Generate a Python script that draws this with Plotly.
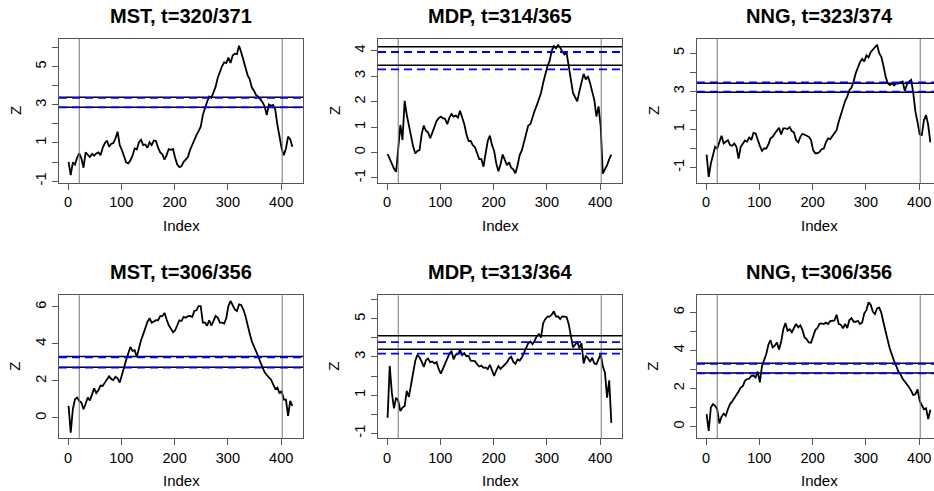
import plotly.graph_objects as go

# ---------------- data ----------------
x_index = list(range(1, 425, 4))  # sampled index positions 1..421

titles = ["MST, t=320/371", "MDP, t=314/365", "NNG, t=323/374",
          "MST, t=306/356", "MDP, t=313/364", "NNG, t=306/356"]

mst_1 = [0.01,-0.69,-0.02,-0.13,0.22,0.45,0.19,-0.30,0.50,0.40,
         0.26,0.43,0.33,0.45,0.50,0.36,0.75,0.98,1.13,0.80,
         0.96,0.99,1.24,1.59,0.89,0.63,0.28,-0.02,-0.07,0.08,
         0.33,0.71,0.66,1.03,1.17,0.89,0.92,0.75,1.03,0.89,
         1.13,1.10,0.75,0.50,0.40,0.12,0.36,0.68,0.64,0.68,
         0.22,-0.13,-0.27,-0.21,0.01,0.12,0.26,0.63,0.92,1.20,
         1.41,1.62,1.85,2.46,2.85,3.16,3.43,3.37,3.65,3.95,
         4.42,4.77,5.02,5.23,5.19,5.47,5.19,5.58,5.68,5.65,
         6.10,5.75,5.33,4.84,4.56,4.34,3.90,3.74,3.51,3.43,
         3.30,3.13,2.92,2.46,3.02,2.95,2.99,2.73,1.94,1.33,
         0.71,0.36,0.71,1.33,1.20,0.80]

mdp_1 = [-0.06,-0.26,-0.47,-0.63,-0.76,0.29,1.08,0.49,2.03,1.48,
         1.06,0.62,0.23,-0.04,0.06,0.09,0.72,1.06,0.85,0.79,
         0.56,0.78,0.98,1.24,1.35,1.41,1.35,1.32,1.11,1.37,
         1.51,1.41,1.45,1.37,1.64,1.41,1.11,0.72,0.45,0.45,
         0.29,0.21,-0.04,-0.26,-0.26,-0.56,-0.04,0.45,0.66,0.29,
         0.06,-0.43,-0.74,-0.47,-0.08,-0.26,-0.50,-0.39,-0.60,-0.66,
         -0.82,-0.50,-0.10,0.08,0.42,0.69,1.06,1.11,1.41,1.64,
         1.85,2.11,2.34,2.73,3.09,3.39,3.59,3.99,4.18,4.09,
         4.22,4.12,3.96,3.85,3.92,3.33,2.73,2.34,2.17,2.01,
         2.40,2.77,3.09,2.87,3.00,2.73,2.34,2.07,1.41,1.81,
         1.02,-0.83,-0.66,-0.50,-0.26,-0.08]

nng_1 = [-0.32,-1.49,-0.79,-0.39,0.09,0.00,0.32,0.67,0.26,0.35,
         0.44,0.18,0.14,0.26,0.09,-0.53,0.09,0.25,0.42,0.35,
         0.60,0.44,0.82,0.79,0.42,0.14,-0.12,0.00,0.00,0.21,
         0.53,0.61,0.79,0.96,1.09,0.74,1.05,1.05,1.02,1.12,
         0.91,0.84,0.44,0.32,0.61,0.77,0.70,0.67,0.61,0.44,
         -0.09,-0.25,-0.25,-0.18,-0.04,0.00,0.32,0.53,0.49,0.65,
         0.77,0.96,1.40,1.79,2.23,2.49,2.72,3.05,3.19,3.51,
         3.95,4.30,4.53,4.70,4.56,4.88,4.77,5.05,5.18,5.26,
         5.44,5.00,4.81,4.33,3.77,3.42,3.33,3.42,3.30,3.42,
         3.40,3.47,3.51,3.02,3.35,3.51,3.60,2.89,1.93,1.37,
         0.74,0.70,1.49,1.75,1.23,0.32]

mst_2 = [0.65,-0.79,0.47,1.01,1.10,0.92,0.83,0.47,0.77,1.10,
         0.95,1.26,1.60,1.35,1.50,1.75,1.73,1.91,2.11,2.25,
         2.11,2.05,2.22,2.14,1.91,2.36,2.72,3.12,3.48,3.84,
         3.62,3.66,3.30,3.80,4.20,4.52,4.92,5.19,5.39,5.15,
         5.21,5.28,5.28,5.50,5.50,5.68,5.32,5.01,4.83,4.63,
         4.74,4.99,5.28,5.24,5.46,5.42,5.50,5.51,5.46,5.78,
         5.82,6.05,6.05,5.15,5.15,4.99,5.28,4.99,5.24,5.51,
         5.42,5.15,5.15,5.10,5.39,6.05,6.32,6.07,5.87,5.78,
         6.14,6.11,5.86,5.51,4.97,4.56,4.13,3.89,3.66,3.33,
         3.01,2.72,2.47,2.32,2.18,2.07,1.82,1.57,1.64,1.32,
         1.46,0.99,0.99,0.11,0.92,0.65]

mdp_2 = [-0.18,2.53,1.13,0.31,0.87,0.70,0.17,0.35,0.43,1.22,
         0.91,1.57,2.13,2.80,3.11,2.97,2.76,2.48,2.83,2.92,
         2.73,2.76,2.66,2.73,2.36,2.13,2.39,2.67,2.97,3.18,
         3.29,2.88,3.13,3.15,3.37,3.09,3.20,3.04,3.06,2.81,
         2.80,2.78,2.62,2.50,2.55,2.43,2.45,2.36,2.59,2.27,
         2.01,2.29,2.52,2.38,2.50,2.59,2.71,2.92,3.01,2.74,
         2.64,2.87,2.81,2.97,3.20,3.50,3.72,3.81,3.67,3.85,
         4.09,4.20,4.02,4.76,4.98,5.11,5.11,5.21,5.39,5.12,
         5.12,4.98,5.12,5.11,5.09,4.72,4.06,3.50,3.64,3.81,
         3.46,3.72,2.66,3.06,2.94,2.74,2.97,2.66,2.62,2.87,
         3.15,2.53,2.18,0.87,1.78,-0.45]

nng_2 = [0.65,-0.23,1.00,1.18,1.09,0.91,0.16,0.51,0.68,0.56,
         0.91,1.18,1.32,1.49,1.63,1.84,2.05,2.12,2.40,2.49,
         2.51,2.67,2.68,2.58,2.89,2.32,3.19,3.54,3.81,4.30,
         4.54,4.16,4.25,4.42,4.05,4.47,5.12,5.44,5.04,5.12,
         4.96,5.18,5.39,5.21,5.32,5.07,4.68,4.58,4.42,4.40,
         4.72,5.07,5.18,5.40,5.42,5.39,5.46,5.39,5.54,5.56,
         5.58,5.88,5.39,5.35,5.16,5.39,5.18,5.60,5.70,5.51,
         5.51,5.56,5.39,5.47,5.95,6.12,6.53,6.40,6.04,5.91,
         6.21,6.25,5.98,5.47,5.07,4.54,4.09,3.72,3.44,3.18,
         2.89,2.75,2.51,2.37,2.23,2.07,1.88,1.65,1.70,1.95,
         1.35,1.11,0.91,0.96,0.39,0.88]

series = [mst_1, mdp_1, nng_1, mst_2, mdp_2, nng_2]

black_levels = [[3.39, 2.87], [4.16, 3.43], [3.42, 2.95],
                [3.32, 2.74], [4.11, 3.41], [3.33, 2.81]]
blue_levels = [[3.36, 2.87], [3.95, 3.27], [3.46, 2.98],
               [3.28, 2.72], [3.78, 3.18], [3.30, 2.79]]
vlines = [21, 402]

y_ranges = [[-1.1, 6.45], [-1.2, 4.46], [-1.81, 5.74],
            [-1.1, 6.63], [-1.26, 6.23], [-0.62, 6.9]]
y_ticks = [[-1, 0, 1, 2, 3, 4, 5, 6], [-1, 0, 1, 2, 3, 4], [-1, 0, 1, 2, 3, 4, 5],
           [0, 2, 4, 6], [-1, 0, 1, 2, 3, 4, 5, 6], [0, 1, 2, 3, 4, 5, 6]]
y_labels = [["-1", "", "1", "", "3", "", "5", ""],
            ["-1", "0", "1", "2", "3", "4"],
            ["-1", "", "1", "", "3", "", "5"],
            ["0", "2", "4", "6"],
            ["-1", "", "1", "", "3", "", "5", ""],
            ["0", "", "2", "", "4", "", "6"]]
x_ticks = [0, 100, 200, 300, 400]

# ---------------- layout geometry ----------------
W, H = 934, 491
col_left = [59, 378, 697]
box_w = 244
row_box = [(39, 183), (295.3, 438.3)]
title_y = [15.5, 271.5]
x_full = [-17, 441]
FONT = "Liberation Sans, Arial, Helvetica, sans-serif"
BOX = "#555555"


def px(xw):
    return xw / W


def py(yw):
    return 1 - yw / H


fig = go.Figure()
layout = dict(width=W, height=H, margin=dict(l=0, r=0, t=0, b=0, autoexpand=False),
              paper_bgcolor="white", plot_bgcolor="white", showlegend=False,
              font=dict(family=FONT, size=14.5, color="black"))
shapes = []
annotations = []

for i in range(6):
    r, c = divmod(i, 3)
    n = i + 1
    xa = "x" if n == 1 else f"x{n}"
    ya = "y" if n == 1 else f"y{n}"
    left = col_left[c]
    right = left + box_w
    top, bot = row_box[r]
    scale = box_w / (x_full[1] - x_full[0])
    if right > W:
        xr = [x_full[0], x_full[0] + (W - left) / scale]
        dom_r = 1.0
        mirror_y = False
    else:
        xr = x_full
        dom_r = px(right)
        mirror_y = True

    fig.add_trace(go.Scatter(x=x_index, y=series[i], mode="lines",
                             line=dict(color="black", width=1.8),
                             xaxis=xa, yaxis=ya, hoverinfo="skip"))

    layout[f"xaxis{'' if n == 1 else n}"] = dict(
        domain=[px(left), dom_r], range=xr, anchor=ya,
        tickvals=x_ticks, ticktext=[str(v) for v in x_ticks],
        ticks="outside", ticklen=6, tickcolor=BOX, tickwidth=1,
        showline=True, linecolor=BOX, linewidth=1, mirror=True,
        showgrid=False, zeroline=False,
        tickfont=dict(family=FONT, size=14.5, color="black"))
    layout[f"yaxis{'' if n == 1 else n}"] = dict(
        domain=[py(bot), py(top)], range=y_ranges[i], anchor=xa,
        tickvals=y_ticks[i], ticktext=y_labels[i], tickangle=-90,
        ticks="outside", ticklen=6, tickcolor=BOX, tickwidth=1,
        showline=True, linecolor=BOX, linewidth=1, mirror=mirror_y,
        showgrid=False, zeroline=False,
        tickfont=dict(family=FONT, size=14.5, color="black"))

    for v in vlines:
        shapes.append(dict(type="line", xref=xa, yref=f"{ya} domain",
                           x0=v, x1=v, y0=0, y1=1,
                           line=dict(color="#777777", width=1)))
    for v in black_levels[i]:
        shapes.append(dict(type="line", xref=f"{xa} domain", yref=ya,
                           x0=0, x1=1, y0=v, y1=v,
                           line=dict(color="black", width=1.5)))
    for v in blue_levels[i]:
        shapes.append(dict(type="line", xref=f"{xa} domain", yref=ya,
                           x0=0, x1=1, y0=v, y1=v,
                           line=dict(color="#0000FF", width=1.8, dash="8px,5px")))

    cx = (left + right) / 2
    annotations.append(dict(text=f"<b>{titles[i]}</b>", xref="paper", yref="paper",
                            x=px(cx), y=py(title_y[r]), showarrow=False,
                            xanchor="center", yanchor="middle",
                            font=dict(family=FONT, size=20, color="black")))
    annotations.append(dict(text="Index", xref="paper", yref="paper",
                            x=px(cx), y=py(bot + 42), showarrow=False,
                            xanchor="center", yanchor="middle",
                            font=dict(family=FONT, size=15, color="black")))
    annotations.append(dict(text="Z", xref="paper", yref="paper",
                            x=px(left - 44), y=py((top + bot) / 2),
                            showarrow=False, textangle=-90,
                            xanchor="center", yanchor="middle",
                            font=dict(family=FONT, size=15, color="black")))

layout["shapes"] = shapes
layout["annotations"] = annotations
fig.update_layout(**layout)
fig.write_html(
    "out.html",
    config={"displayModeBar": False, "staticPlot": True},
    post_script="document.body.style.margin='0';document.body.style.padding='0';"
                "document.body.style.overflow='hidden';",
)
